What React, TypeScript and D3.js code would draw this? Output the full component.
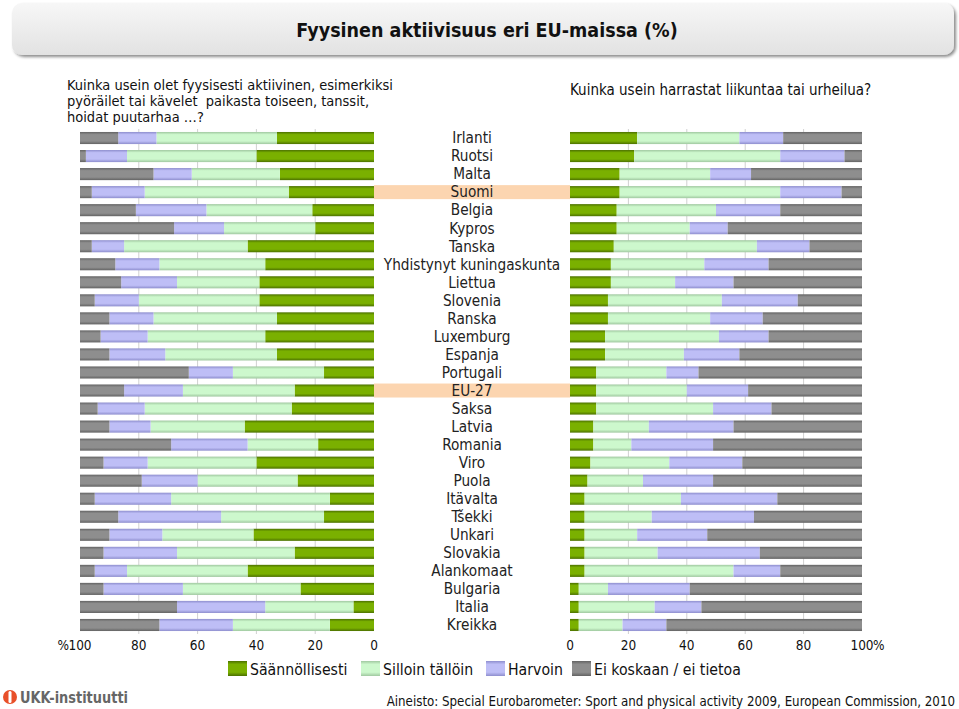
import React from "react";
import * as d3 from "d3";

const countries = ["Irlanti","Ruotsi","Malta","Suomi","Belgia","Kypros","Tanska","Yhdistynyt kuningaskunta","Liettua","Slovenia","Ranska","Luxemburg","Espanja","Portugali","EU-27","Saksa","Latvia","Romania","Viro","Puola","Itävalta","Tšekki","Unkari","Slovakia","Alankomaat","Bulgaria","Italia","Kreikka"];
const highlighted = ["Suomi", "EU-27"];
const seriesNames = ["Säännöllisesti", "Silloin tällöin", "Harvoin", "Ei koskaan / ei tietoa"];

// Left: physical activity (cycling, walking, dancing, gardening)
const leftRegular   = [33,40,32,29,21,20,43,37,39,39,33,37,33,17,27,28,44,19,40,26,15,17,41,27,43,25,7,15];
const leftSometimes = [41,44,30,49,36,31,42,36,28,41,42,40,38,31,38,50,32,24,37,34,54,35,31,40,41,40,30,33];
const leftRarely    = [13,14,13,18,24,17,11,15,19,15,15,16,19,15,20,16,14,26,15,19,26,35,18,25,11,27,30,25];
const leftNever     = [13,2,25,4,19,32,4,12,14,5,10,7,10,37,15,6,10,31,8,21,5,13,10,8,5,8,33,27];

// Right: sport / exercise
const rightRegular   = [23,22,17,17,16,16,15,14,14,13,13,12,12,9,9,9,8,8,7,6,5,5,5,5,5,3,3,3];
const rightSometimes = [35,50,31,55,34,25,49,32,22,39,35,39,27,24,31,40,19,13,27,19,33,23,18,25,51,10,26,15];
const rightRarely    = [15,22,14,21,22,13,18,22,20,26,18,17,19,11,21,20,29,28,25,24,33,35,24,35,16,28,16,15];
const rightNever     = [27,6,38,7,28,46,18,32,44,22,34,32,42,56,39,31,44,51,41,51,29,37,53,35,28,59,55,67];

const tickValues = [0, 20, 40, 60, 80, 100];

const colors = [
  { base: "#7ab000", edge: "#4b7000" },
  { base: "#cdf8cd", edge: "#a0c8a0" },
  { base: "#bebef6", edge: "#8e8ece" },
  { base: "#8e8e8e", edge: "#636363" },
];

const FONT = "'DejaVu Sans Condensed', 'DejaVu Sans', sans-serif";

export default function App() {
  const W = 959, H = 709;
  const y = d3.scaleBand<string>().domain(countries).range([129, 634]).paddingInner(0.33).paddingOuter(0.165);
  const xL = d3.scaleLinear().domain([0, 100]).range([374, 80]);
  const xR = d3.scaleLinear().domain([0, 100]).range([570, 862]);

  const leftData = countries.map((c, i) => ({ c, v: [leftRegular[i], leftSometimes[i], leftRarely[i], leftNever[i]] }));
  const rightData = countries.map((c, i) => ({ c, v: [rightRegular[i], rightSometimes[i], rightRarely[i], rightNever[i]] }));

  const stackSegs = (vals: number[]) => {
    let acc = 0;
    return vals.map((v, k) => { const s = { k, x0: acc, x1: acc + v }; acc += v; return s; });
  };

  const bw = y.bandwidth();
  const gridTop = 129, gridBot = 634;

  return (
    <svg width={W} height={H} style={{ position: "absolute", left: 0, top: 0, background: "#fff" }} fontFamily={FONT}>
      <defs>
        {colors.map((c, k) => (
          <linearGradient key={k} id={`g${k}`} x1="0" y1="0" x2="0" y2="1">
            <stop offset="0" stopColor={c.edge} />
            <stop offset="0.22" stopColor={c.base} />
            <stop offset="0.75" stopColor={c.base} />
            <stop offset="1" stopColor={c.edge} />
          </linearGradient>
        ))}
        <linearGradient id="titleG" x1="0" y1="0" x2="0" y2="1">
          <stop offset="0" stopColor="#f7f7f7" />
          <stop offset="1" stopColor="#e2e2e2" />
        </linearGradient>
        <filter id="sh" x="-5%" y="-20%" width="110%" height="160%">
          <feDropShadow dx="2" dy="2" stdDeviation="1.5" floodColor="#000" floodOpacity="0.45" />
        </filter>
      </defs>

      {/* Title box */}
      <rect x={12} y={3} width={942} height={52} rx={10} fill="url(#titleG)" filter="url(#sh)" />
      <text x={487} y={37} textAnchor="middle" fontSize={19.5} fontWeight="bold" fill="#111">Fyysinen aktiivisuus eri EU-maissa (%)</text>

      {/* Subtitles */}
      <text fontSize={14.5} fill="#111" style={{ whiteSpace: "pre" }}>
        <tspan x={67} y={90}>Kuinka usein olet fyysisesti aktiivinen, esimerkiksi</tspan>
        <tspan x={67} y={106}>{"pyöräilet tai kävelet\u00a0 paikasta toiseen, tanssit,"}</tspan>
        <tspan x={67} y={122}>hoidat puutarhaa …?</tspan>
      </text>
      <text x={570} y={95} fontSize={15} fill="#111">Kuinka usein harrastat liikuntaa tai urheilua?</text>

      {/* Highlight bands */}
      {highlighted.map(c => (
        <rect key={c} x={xL(0)} y={(y(c) as number) + bw / 2 - 7} width={xR(0) - xL(0)} height={14} fill="#fcd5b0" />
      ))}

      {/* Grid lines */}
      {tickValues.filter(t => t > 0 && t < 100).map(t => (
        <g key={t}>
          <line x1={xL(t)} x2={xL(t)} y1={gridTop} y2={gridBot} stroke="#d0d0d0" strokeWidth={1} />
          <line x1={xR(t)} x2={xR(t)} y1={gridTop} y2={gridBot} stroke="#d0d0d0" strokeWidth={1} />
        </g>
      ))}

      {/* Left bars */}
      {leftData.map(d => (
        <g key={d.c}>
          {stackSegs(d.v).map(s => (
            <rect key={s.k} x={xL(s.x1)} y={y(d.c)} width={xL(s.x0) - xL(s.x1)} height={bw} fill={`url(#g${s.k})`} />
          ))}
        </g>
      ))}

      {/* Right bars */}
      {rightData.map(d => (
        <g key={d.c}>
          {stackSegs(d.v).map(s => (
            <rect key={s.k} x={xR(s.x0)} y={y(d.c)} width={xR(s.x1) - xR(s.x0)} height={bw} fill={`url(#g${s.k})`} />
          ))}
        </g>
      ))}

      {/* Country labels */}
      {countries.map(c => (
        <text key={c} x={472} y={(y(c) as number) + bw / 2} dy="0.35em" textAnchor="middle" fontSize={15.2} fill="#222">{c}</text>
      ))}

      {/* Axis tick labels */}
      {tickValues.map(t => (
        <text key={"l" + t} x={xL(t)} y={650} textAnchor="middle" fontSize={13.5} fill="#111">{t}</text>
      ))}
      <text x={xL(100) - 11} y={650} textAnchor="end" fontSize={13.5} fill="#111">%</text>
      {tickValues.map(t => (
        <text key={"r" + t} x={xR(t)} y={650} textAnchor="middle" fontSize={13.5} fill="#111">{t}</text>
      ))}
      <text x={xR(100) + 11} y={650} textAnchor="start" fontSize={13.5} fill="#111">%</text>

      {/* Legend */}
      {seriesNames.map((n, k) => {
        const xs = [228, 361, 486, 572][k];
        return (
          <g key={n}>
            <rect x={xs} y={661} width={19} height={15} fill={`url(#g${k})`} />
            <text x={xs + 22} y={675} fontSize={15.7} fill="#111">{n}</text>
          </g>
        );
      })}

      {/* Logo */}
      <g>
        <circle cx={10} cy={697} r={7} fill="#e8502a" />
        <rect x={8.5} y={691} width={3} height={12} rx={1.5} fill="#fff" />
        <text x={20} y={703} fontSize={15} fontWeight="bold" fill="#666" textLength={108} lengthAdjust="spacingAndGlyphs">UKK-instituutti</text>
      </g>

      {/* Source */}
      <text x={955} y={706} textAnchor="end" fontSize={13.2} fill="#111">Aineisto: Special Eurobarometer: Sport and physical activity 2009, European Commission, 2010</text>
    </svg>
  );
}
